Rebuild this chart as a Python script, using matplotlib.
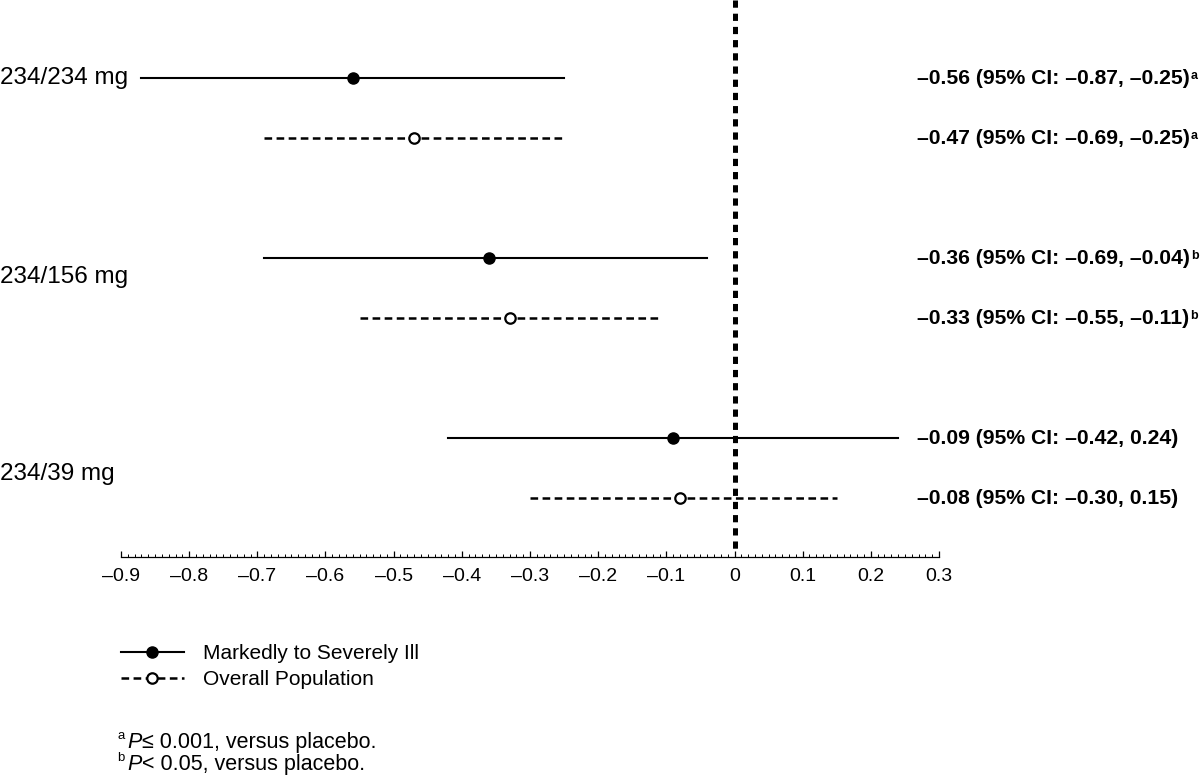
import matplotlib
matplotlib.use("Agg")
import matplotlib.pyplot as plt
from matplotlib.lines import Line2D
from matplotlib.ticker import FixedLocator, MultipleLocator
import matplotlib.transforms as mtransforms

plt.rcParams["font.family"] = ["Liberation Sans", "DejaVu Sans"]
plt.rcParams["lines.scale_dashes"] = False

GROUPS  = ["234/234 mg", "234/156 mg", "234/39 mg"]

ILL_EST = [-0.56, -0.36, -0.09]
ILL_LO  = [-0.87, -0.69, -0.42]
ILL_HI  = [-0.25, -0.04, 0.24]
ILL_SIG = ["a", "b", ""]

ALL_EST = [-0.47, -0.33, -0.08]
ALL_LO  = [-0.69, -0.55, -0.30]
ALL_HI  = [-0.25, -0.11, 0.15]
ALL_SIG = ["a", "b", ""]

XTICKS = [-0.9, -0.8, -0.7, -0.6, -0.5, -0.4, -0.3, -0.2, -0.1, 0, 0.1, 0.2, 0.3]

SERIES_LABELS = ["Markedly to Severely Ill", "Overall Population"]
FOOT_MARKS = ["a", "b"]
FOOT_TEXTS = ["≤ 0.001, versus placebo.", "< 0.05, versus placebo."]

BLACK = "#000000"
DASH  = (0, (5.5, 3.2))


def fmt(v):
    return f"{v:.2f}".replace("-", "–")


def tick_fmt(v):
    if abs(v) < 1e-9:
        return "0"
    return f"{v:.1f}".replace("-", "–")


fig = plt.figure(figsize=(12, 7.8), dpi=100)
ax = fig.add_axes([121 / 1200, 223 / 780, 818 / 1200, 557 / 780])
ax.set_xlim(-0.9, 0.3)
ax.set_ylim(9.28, 0)

label_tr = mtransforms.blended_transform_factory(fig.transFigure, ax.transData)

for i, g in enumerate(GROUPS):
    y_ill = i * 3 + 1.3
    y_all = y_ill + 1.0

    ax.plot([ILL_LO[i], ILL_HI[i]], [y_ill, y_ill], color=BLACK, lw=1.5, zorder=3)
    ax.plot(ILL_EST[i], y_ill, "o", color=BLACK, ms=8, zorder=4)

    ax.plot([ALL_LO[i], ALL_HI[i]], [y_all, y_all], color=BLACK, lw=1.8,
            linestyle=DASH, zorder=3)
    ax.plot(ALL_EST[i], y_all, "o", mfc="white", mec=BLACK, mew=1.6, ms=7.5, zorder=4)

    label_y = [1.3, 4.62, 7.9][i]
    ax.text(0.0, label_y, g, transform=label_tr, fontsize=17.5,
            ha="left", va="center")

    for y, est, lo, hi, sig in [(y_ill, ILL_EST[i], ILL_LO[i], ILL_HI[i], ILL_SIG[i]),
                                (y_all, ALL_EST[i], ALL_LO[i], ALL_HI[i], ALL_SIG[i])]:
        t = ax.text(917 / 1200, y, f"{fmt(est)} (95% CI: {fmt(lo)}, {fmt(hi)})",
                    transform=label_tr, fontsize=15.2, fontweight="bold",
                    ha="left", va="center")
        if sig:
            ax.annotate(sig, xy=(1, 0.92), xycoords=t, xytext=(0.8, 0),
                        textcoords="offset points", fontsize=9,
                        fontweight="bold", ha="left", va="top")

# reference line at zero
ax.plot([0, 0], [0, 9.22], color=BLACK, lw=3.6, linestyle=(0, (5.2, 4.3)), zorder=2)

for side in ["left", "right", "top"]:
    ax.spines[side].set_visible(False)
ax.spines["bottom"].set_linewidth(0.9)
ax.set_yticks([])
ax.xaxis.set_major_locator(FixedLocator(XTICKS))
ax.xaxis.set_minor_locator(MultipleLocator(0.01))
ax.set_xticklabels([tick_fmt(v) for v in XTICKS])
ax.tick_params(axis="x", which="major", direction="in", length=4.5, width=0.9,
               labelsize=14, pad=8)
ax.tick_params(axis="x", which="minor", direction="in", length=2.5, width=0.7)

handles = [
    Line2D([], [], color=BLACK, lw=1.5, marker="o", ms=8),
    Line2D([], [], color=BLACK, lw=1.8, linestyle=DASH, marker="o",
           mfc="white", mec=BLACK, mew=1.6, ms=7.5),
]
fig.legend(handles, SERIES_LABELS, loc="upper left",
           bbox_to_anchor=(121 / 1200, 1 - 644 / 780), frameon=False,
           fontsize=15, handlelength=3.0, handletextpad=0.95,
           labelspacing=0.35, borderpad=0, borderaxespad=0, numpoints=1)

# footnotes: superscript mark, italic P, then the rest
for k in range(len(FOOT_TEXTS)):
    y = 1 - (748 + 22 * k) / 780
    fig.text(117 / 1200, y + 0.0115, FOOT_MARKS[k], fontsize=9.5,
             ha="left", va="baseline")
    p = fig.text(127 / 1200, y, "P", fontsize=15.5, style="italic",
                 ha="left", va="baseline")
    fig.add_artist(plt.Annotation(FOOT_TEXTS[k], xy=(1, 0), xycoords=p,
                                  xytext=(0.5, 0), textcoords="offset points",
                                  fontsize=15.5, ha="left", va="bottom",
                                  annotation_clip=False))

fig.savefig("out.png", dpi=100)
